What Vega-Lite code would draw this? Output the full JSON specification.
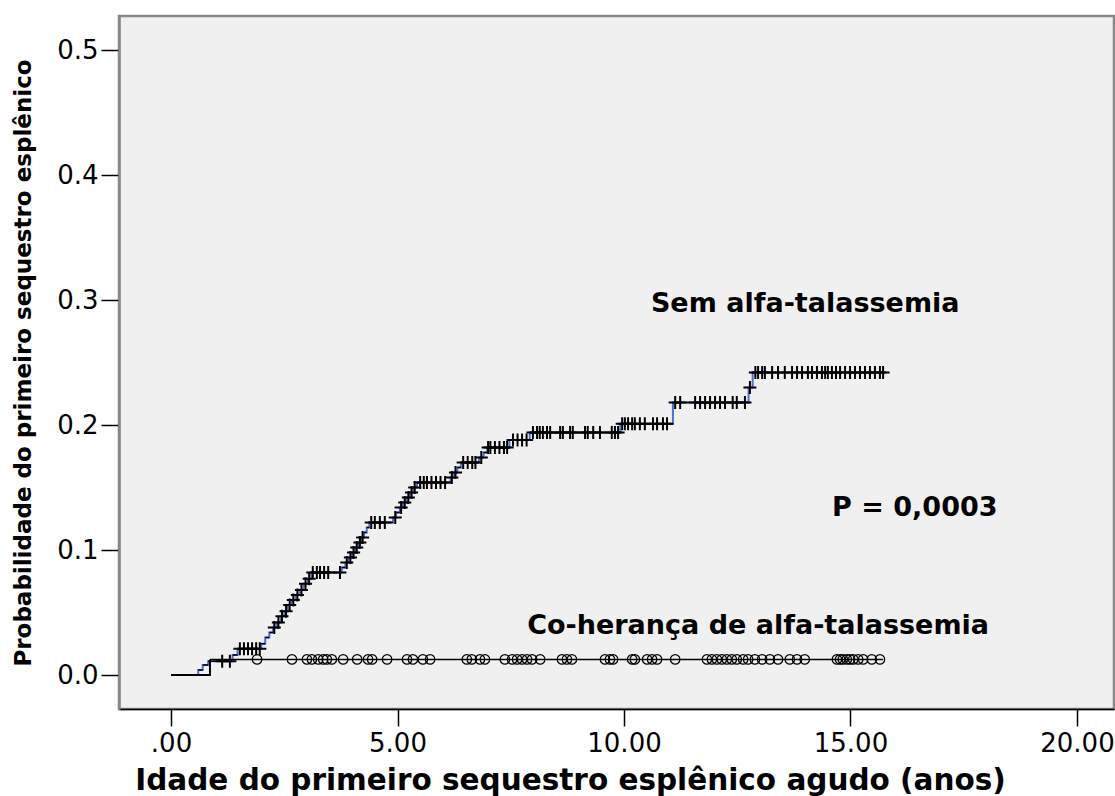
{
  "$schema": "https://vega.github.io/schema/vega-lite/v6.json",
  "autosize": {"type": "none"},
  "width": 995,
  "height": 693,
  "padding": {"left": 119, "top": 16, "right": 1, "bottom": 87},
  "background": "white",
  "config": {
    "view": {"fill": "#f0f0f0", "stroke": "#888888", "strokeWidth": 2.5},
    "font": "DejaVu Sans"
  },
  "datasets": {
    "segs": [
      {"group": "Sem", "t0": 0, "t1": 0.6, "p": 0},
      {"group": "Sem", "t0": 0.6, "t1": 0.7, "p": 0.004},
      {"group": "Sem", "t0": 0.7, "t1": 0.82, "p": 0.008},
      {"group": "Sem", "t0": 0.82, "t1": 1.36, "p": 0.011},
      {"group": "Sem", "t0": 1.36, "t1": 1.47, "p": 0.016},
      {"group": "Sem", "t0": 1.47, "t1": 1.99, "p": 0.021},
      {"group": "Sem", "t0": 1.99, "t1": 2.08, "p": 0.025},
      {"group": "Sem", "t0": 2.08, "t1": 2.17, "p": 0.030},
      {"group": "Sem", "t0": 2.17, "t1": 2.25, "p": 0.034},
      {"group": "Sem", "t0": 2.25, "t1": 2.33, "p": 0.038},
      {"group": "Sem", "t0": 2.33, "t1": 2.42, "p": 0.042},
      {"group": "Sem", "t0": 2.42, "t1": 2.5, "p": 0.047},
      {"group": "Sem", "t0": 2.5, "t1": 2.58, "p": 0.051},
      {"group": "Sem", "t0": 2.58, "t1": 2.66, "p": 0.056},
      {"group": "Sem", "t0": 2.66, "t1": 2.75, "p": 0.060},
      {"group": "Sem", "t0": 2.75, "t1": 2.84, "p": 0.064},
      {"group": "Sem", "t0": 2.84, "t1": 2.93, "p": 0.068},
      {"group": "Sem", "t0": 2.93, "t1": 3.02, "p": 0.073},
      {"group": "Sem", "t0": 3.02, "t1": 3.1, "p": 0.077},
      {"group": "Sem", "t0": 3.1, "t1": 3.77, "p": 0.082},
      {"group": "Sem", "t0": 3.77, "t1": 3.85, "p": 0.086},
      {"group": "Sem", "t0": 3.85, "t1": 3.92, "p": 0.090},
      {"group": "Sem", "t0": 3.92, "t1": 4.0, "p": 0.094},
      {"group": "Sem", "t0": 4.0, "t1": 4.07, "p": 0.098},
      {"group": "Sem", "t0": 4.07, "t1": 4.13, "p": 0.102},
      {"group": "Sem", "t0": 4.13, "t1": 4.2, "p": 0.106},
      {"group": "Sem", "t0": 4.2, "t1": 4.26, "p": 0.110},
      {"group": "Sem", "t0": 4.26, "t1": 4.32, "p": 0.114},
      {"group": "Sem", "t0": 4.32, "t1": 4.38, "p": 0.118},
      {"group": "Sem", "t0": 4.38, "t1": 4.9, "p": 0.122},
      {"group": "Sem", "t0": 4.9, "t1": 4.97, "p": 0.126},
      {"group": "Sem", "t0": 4.97, "t1": 5.05, "p": 0.130},
      {"group": "Sem", "t0": 5.05, "t1": 5.12, "p": 0.134},
      {"group": "Sem", "t0": 5.12, "t1": 5.2, "p": 0.138},
      {"group": "Sem", "t0": 5.2, "t1": 5.27, "p": 0.142},
      {"group": "Sem", "t0": 5.27, "t1": 5.35, "p": 0.146},
      {"group": "Sem", "t0": 5.35, "t1": 5.43, "p": 0.150},
      {"group": "Sem", "t0": 5.43, "t1": 6.17, "p": 0.154},
      {"group": "Sem", "t0": 6.17, "t1": 6.25, "p": 0.158},
      {"group": "Sem", "t0": 6.25, "t1": 6.32, "p": 0.162},
      {"group": "Sem", "t0": 6.32, "t1": 6.4, "p": 0.166},
      {"group": "Sem", "t0": 6.4, "t1": 6.8, "p": 0.170},
      {"group": "Sem", "t0": 6.8, "t1": 6.9, "p": 0.174},
      {"group": "Sem", "t0": 6.9, "t1": 6.98, "p": 0.178},
      {"group": "Sem", "t0": 6.98, "t1": 7.47, "p": 0.182},
      {"group": "Sem", "t0": 7.47, "t1": 7.92, "p": 0.188},
      {"group": "Sem", "t0": 7.92, "t1": 9.92, "p": 0.194},
      {"group": "Sem", "t0": 9.92, "t1": 11.08, "p": 0.201},
      {"group": "Sem", "t0": 11.08, "t1": 12.75, "p": 0.218},
      {"group": "Sem", "t0": 12.75, "t1": 12.84, "p": 0.230},
      {"group": "Sem", "t0": 12.84, "t1": 15.72, "p": 0.242},
      {"group": "Co", "t0": 0, "t1": 0.86, "p": 0},
      {"group": "Co", "t0": 0.86, "t1": 15.72, "p": 0.0125}
    ],
    "plus": [
      {"t": 1.13, "p": 0.011}, {"t": 1.3, "p": 0.011},
      {"t": 1.52, "p": 0.021}, {"t": 1.61, "p": 0.021}, {"t": 1.7, "p": 0.021}, {"t": 1.79, "p": 0.021}, {"t": 1.88, "p": 0.021}, {"t": 1.96, "p": 0.021},
      {"t": 2.28, "p": 0.038}, {"t": 2.37, "p": 0.042}, {"t": 2.45, "p": 0.047}, {"t": 2.54, "p": 0.051}, {"t": 2.62, "p": 0.056}, {"t": 2.7, "p": 0.060}, {"t": 2.79, "p": 0.064}, {"t": 2.88, "p": 0.068}, {"t": 2.97, "p": 0.073}, {"t": 3.05, "p": 0.077},
      {"t": 3.13, "p": 0.082}, {"t": 3.22, "p": 0.082}, {"t": 3.29, "p": 0.082}, {"t": 3.38, "p": 0.082}, {"t": 3.47, "p": 0.082}, {"t": 3.73, "p": 0.082},
      {"t": 3.88, "p": 0.090}, {"t": 3.96, "p": 0.094}, {"t": 4.03, "p": 0.098}, {"t": 4.1, "p": 0.102}, {"t": 4.17, "p": 0.106}, {"t": 4.23, "p": 0.110},
      {"t": 4.42, "p": 0.122}, {"t": 4.5, "p": 0.122}, {"t": 4.61, "p": 0.122}, {"t": 4.72, "p": 0.122},
      {"t": 4.95, "p": 0.126}, {"t": 5.08, "p": 0.134}, {"t": 5.16, "p": 0.138}, {"t": 5.24, "p": 0.142}, {"t": 5.31, "p": 0.146}, {"t": 5.38, "p": 0.150},
      {"t": 5.5, "p": 0.154}, {"t": 5.58, "p": 0.154}, {"t": 5.65, "p": 0.154}, {"t": 5.75, "p": 0.154}, {"t": 5.85, "p": 0.154}, {"t": 5.95, "p": 0.154}, {"t": 6.05, "p": 0.154},
      {"t": 6.2, "p": 0.158}, {"t": 6.28, "p": 0.162},
      {"t": 6.45, "p": 0.170}, {"t": 6.55, "p": 0.170}, {"t": 6.65, "p": 0.170}, {"t": 6.72, "p": 0.170},
      {"t": 6.85, "p": 0.174},
      {"t": 7.0, "p": 0.182}, {"t": 7.05, "p": 0.182}, {"t": 7.15, "p": 0.182}, {"t": 7.25, "p": 0.182}, {"t": 7.35, "p": 0.182}, {"t": 7.42, "p": 0.182},
      {"t": 7.55, "p": 0.188}, {"t": 7.65, "p": 0.188}, {"t": 7.75, "p": 0.188}, {"t": 7.85, "p": 0.188},
      {"t": 7.99, "p": 0.194}, {"t": 8.08, "p": 0.194}, {"t": 8.14, "p": 0.194}, {"t": 8.21, "p": 0.194}, {"t": 8.3, "p": 0.194}, {"t": 8.37, "p": 0.194}, {"t": 8.59, "p": 0.194}, {"t": 8.65, "p": 0.194}, {"t": 8.81, "p": 0.194}, {"t": 8.87, "p": 0.194}, {"t": 9.14, "p": 0.194}, {"t": 9.2, "p": 0.194}, {"t": 9.32, "p": 0.194}, {"t": 9.47, "p": 0.194}, {"t": 9.73, "p": 0.194}, {"t": 9.8, "p": 0.194}, {"t": 9.87, "p": 0.194},
      {"t": 9.96, "p": 0.201}, {"t": 10.02, "p": 0.201}, {"t": 10.09, "p": 0.201}, {"t": 10.18, "p": 0.201}, {"t": 10.24, "p": 0.201}, {"t": 10.35, "p": 0.201}, {"t": 10.46, "p": 0.201}, {"t": 10.64, "p": 0.201}, {"t": 10.73, "p": 0.201}, {"t": 10.86, "p": 0.201}, {"t": 10.95, "p": 0.201},
      {"t": 11.13, "p": 0.218}, {"t": 11.24, "p": 0.218}, {"t": 11.57, "p": 0.218}, {"t": 11.68, "p": 0.218}, {"t": 11.79, "p": 0.218}, {"t": 11.9, "p": 0.218}, {"t": 12.01, "p": 0.218}, {"t": 12.12, "p": 0.218}, {"t": 12.23, "p": 0.218}, {"t": 12.4, "p": 0.218}, {"t": 12.49, "p": 0.218}, {"t": 12.67, "p": 0.218},
      {"t": 12.78, "p": 0.230},
      {"t": 12.9, "p": 0.242}, {"t": 12.96, "p": 0.242}, {"t": 13.05, "p": 0.242}, {"t": 13.11, "p": 0.242}, {"t": 13.27, "p": 0.242}, {"t": 13.4, "p": 0.242}, {"t": 13.55, "p": 0.242}, {"t": 13.71, "p": 0.242}, {"t": 13.82, "p": 0.242}, {"t": 13.93, "p": 0.242}, {"t": 14.06, "p": 0.242}, {"t": 14.15, "p": 0.242}, {"t": 14.26, "p": 0.242}, {"t": 14.37, "p": 0.242}, {"t": 14.44, "p": 0.242}, {"t": 14.5, "p": 0.242}, {"t": 14.59, "p": 0.242}, {"t": 14.68, "p": 0.242}, {"t": 14.77, "p": 0.242}, {"t": 14.88, "p": 0.242}, {"t": 14.99, "p": 0.242}, {"t": 15.1, "p": 0.242}, {"t": 15.21, "p": 0.242}, {"t": 15.32, "p": 0.242}, {"t": 15.43, "p": 0.242}, {"t": 15.54, "p": 0.242}, {"t": 15.65, "p": 0.242}, {"t": 15.72, "p": 0.242}
    ],
    "circ": [
      {"t": 1.90}, {"t": 2.67}, {"t": 3.00}, {"t": 3.11}, {"t": 3.25}, {"t": 3.36}, {"t": 3.44}, {"t": 3.55}, {"t": 3.80}, {"t": 4.11}, {"t": 4.35}, {"t": 4.44}, {"t": 4.77}, {"t": 5.21}, {"t": 5.34}, {"t": 5.56}, {"t": 5.72},
      {"t": 6.53}, {"t": 6.64}, {"t": 6.82}, {"t": 6.93}, {"t": 7.37}, {"t": 7.53}, {"t": 7.64}, {"t": 7.75}, {"t": 7.86}, {"t": 7.97}, {"t": 8.15}, {"t": 8.63}, {"t": 8.74}, {"t": 8.85}, {"t": 9.58}, {"t": 9.69}, {"t": 9.76},
      {"t": 10.18}, {"t": 10.24}, {"t": 10.51}, {"t": 10.62}, {"t": 10.73}, {"t": 11.13}, {"t": 11.83}, {"t": 11.94}, {"t": 12.05}, {"t": 12.16}, {"t": 12.27}, {"t": 12.38}, {"t": 12.49}, {"t": 12.63}, {"t": 12.74}, {"t": 12.89}, {"t": 13.05}, {"t": 13.22}, {"t": 13.40}, {"t": 13.66}, {"t": 13.82}, {"t": 13.99},
      {"t": 14.70}, {"t": 14.77}, {"t": 14.83}, {"t": 14.92}, {"t": 14.99}, {"t": 15.06}, {"t": 15.17}, {"t": 15.28}, {"t": 15.47}, {"t": 15.65}
    ],
    "labels": [
      {"label": "Sem alfa-talassemia", "t": 14.0, "p": 0.297},
      {"label": "P = 0,0003", "t": 16.42, "p": 0.1336},
      {"label": "Co-herança de alfa-talassemia", "t": 12.96, "p": 0.0392}
    ]
  },
  "layer": [
    {
      "data": {"name": "segs"},
      "mark": {"type": "line", "interpolate": "step-after", "strokeWidth": 2},
      "encoding": {
        "x": {
          "field": "t0", "type": "quantitative",
          "scale": {"domain": [-1.148, 20.817], "nice": false, "zero": false},
          "axis": {
            "values": [0, 5, 10, 15, 20],
            "labelExpr": "datum.value == 0 ? '.00' : format(datum.value, '.2f')",
            "title": "Idade do primeiro sequestro esplênico agudo (anos)",
            "grid": false, "domainColor": "#000000", "domainWidth": 1.5,
            "tickColor": "#000000", "tickSize": 17, "tickWidth": 1.5,
            "labelFontSize": 26, "labelColor": "#000000", "labelPadding": 4,
            "labelFont": "DejaVu Sans",
            "titleFont": "DejaVu Sans", "titleFontSize": 29.5, "titleFontWeight": "bold", "titleColor": "#000000", "titlePadding": 10,
            "titleX": 451
          }
        },
        "y": {
          "field": "p", "type": "quantitative",
          "scale": {"domain": [-0.0272, 0.5272], "nice": false, "zero": false},
          "axis": {
            "values": [0, 0.1, 0.2, 0.3, 0.4, 0.5],
            "format": ".1f",
            "title": "Probabilidade do primeiro sequestro esplênico",
            "grid": false, "domainColor": "#888888", "domainWidth": 2.5,
            "tickColor": "#000000", "tickSize": 18, "tickWidth": 1.5,
            "labelFontSize": 26, "labelColor": "#000000", "labelPadding": 3,
            "labelFont": "DejaVu Sans",
            "titleFont": "DejaVu Sans", "titleFontSize": 23, "titleFontWeight": "bold", "titleColor": "#000000", "titlePadding": 21
          }
        },
        "color": {
          "field": "group", "type": "nominal",
          "scale": {"domain": ["Sem", "Co"], "range": ["#4f6fd6", "#000000"]},
          "legend": null
        }
      }
    },
    {
      "data": {"name": "segs"},
      "mark": {"type": "rule", "color": "#000000", "strokeWidth": 1.5},
      "encoding": {
        "x": {"field": "t0", "type": "quantitative"},
        "x2": {"field": "t1"},
        "y": {"field": "p", "type": "quantitative"}
      }
    },
    {
      "data": {"name": "circ"},
      "mark": {"type": "point", "shape": "circle", "filled": false, "color": "#000000", "size": 90, "strokeWidth": 1.2, "opacity": 1},
      "encoding": {
        "x": {"field": "t", "type": "quantitative"},
        "y": {"datum": 0.0125, "type": "quantitative"}
      }
    },
    {
      "data": {"name": "plus"},
      "mark": {"type": "point", "shape": "M-1,0L1,0M0,-1L0,1", "filled": false, "color": "#000000", "size": 170, "strokeWidth": 2, "opacity": 1},
      "encoding": {
        "x": {"field": "t", "type": "quantitative"},
        "y": {"field": "p", "type": "quantitative"}
      }
    },
    {
      "data": {"name": "labels"},
      "mark": {"type": "text", "font": "DejaVu Sans", "fontSize": 27, "fontWeight": "bold", "color": "#000000", "align": "center", "baseline": "middle"},
      "encoding": {
        "x": {"field": "t", "type": "quantitative"},
        "y": {"field": "p", "type": "quantitative"},
        "text": {"field": "label"}
      }
    }
  ]
}
